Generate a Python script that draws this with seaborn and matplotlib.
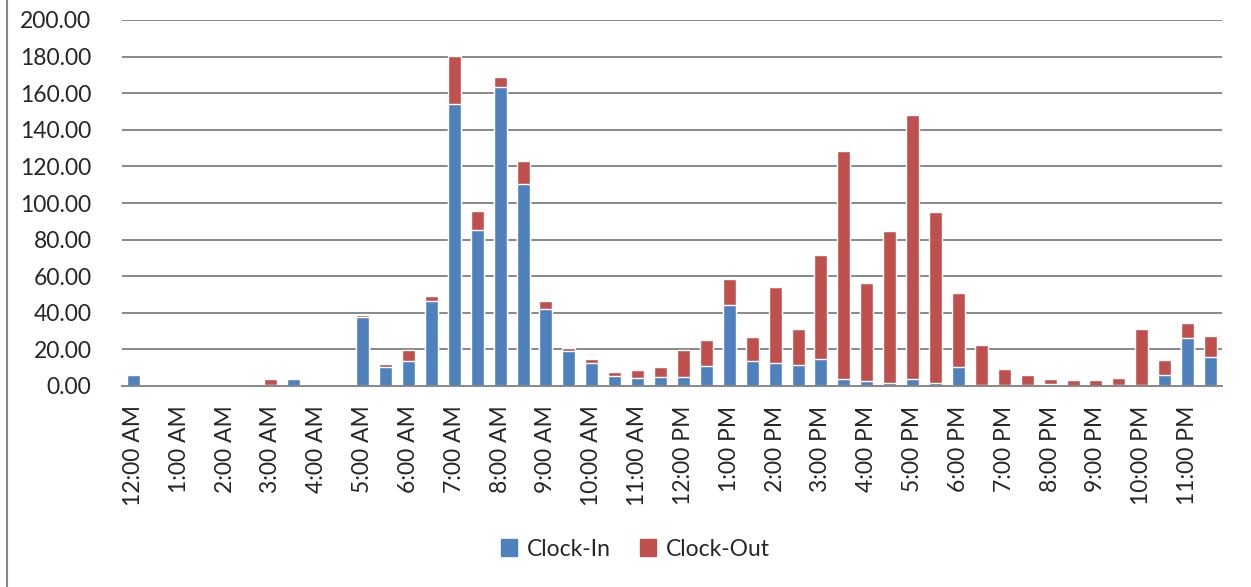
import numpy as np
import pandas as pd
import matplotlib
matplotlib.use("Agg")
import matplotlib.pyplot as plt
from matplotlib.lines import Line2D
from matplotlib.patches import Patch
import seaborn as sns

# hour labels shown on the axis (one bar every half hour)
hour_labels = ["12:00 AM", "1:00 AM", "2:00 AM", "3:00 AM", "4:00 AM", "5:00 AM",
               "6:00 AM", "7:00 AM", "8:00 AM", "9:00 AM", "10:00 AM", "11:00 AM",
               "12:00 PM", "1:00 PM", "2:00 PM", "3:00 PM", "4:00 PM", "5:00 PM",
               "6:00 PM", "7:00 PM", "8:00 PM", "9:00 PM", "10:00 PM", "11:00 PM"]

clock_in = [6.0, 0.5, 0.3, 0.3, 0.3, 0.3, 0.3, 3.8, 0.0, 0.0,
            37.8, 10.5, 13.5, 46.5, 154.0, 85.0, 163.5, 110.5, 42.0, 19.0,
            12.4, 5.6, 4.2, 4.7, 4.7, 10.7, 44.0, 13.5, 12.6, 11.3,
            15.0, 3.6, 2.9, 1.8, 3.6, 1.8, 10.4, 0.5, 0.5, 0.5,
            1.0, 0.0, 0.0, 0.3, 0.3, 6.2, 26.0, 16.0]

clock_out = [0.0, 0.0, 0.3, 0.3, 0.3, 0.3, 3.5, 0.3, 0.0, 0.0,
             1.0, 1.4, 6.0, 2.6, 26.5, 10.5, 5.5, 12.5, 4.3, 1.9,
             2.4, 2.1, 4.4, 5.5, 15.2, 14.4, 14.5, 13.1, 41.5, 20.0,
             56.7, 124.6, 53.6, 82.7, 144.3, 93.1, 40.2, 21.7, 9.0, 5.5,
             2.8, 3.1, 3.3, 4.3, 30.8, 7.8, 8.2, 11.2]

BLUE = "#4F81BD"
RED = "#C0504D"
GRID = "#888888"

slots = []
for h in hour_labels:
    slots.append(h)
    slots.append(h.replace(":00", ":30"))

df = pd.DataFrame({"slot": slots, "in": clock_in, "out": clock_out})
df["total"] = df["in"] + df["out"]

sns.set_style("white")
plt.rcParams["font.family"] = ["Lato", "DejaVu Sans"]

fig = plt.figure(figsize=(12.51, 5.87), dpi=100)
ax = fig.add_axes([122 / 1251, 1 - 386 / 587, 1100 / 1251, 366 / 587])

# stacked bars: draw totals first, clock-in on top of the lower part
sns.barplot(data=df, x="slot", y="total", color=RED, saturation=1, width=0.57, ax=ax)
sns.barplot(data=df, x="slot", y="in", color=BLUE, saturation=1, width=0.57, ax=ax)

ax.set_ylim(0, 200)
ax.set_xlim(-0.5, len(slots) - 0.5)
ax.set_yticks(np.arange(0, 201, 20))
ax.set_yticklabels([f"{v:.2f}" for v in np.arange(0, 201, 20)], fontsize=16.5)
ax.yaxis.grid(True, color=GRID, linewidth=1.4)
ax.set_axisbelow(True)
ax.set_xticks(range(0, len(slots), 2))
ax.set_xticklabels(hour_labels, rotation=90, fontsize=16.5)
ax.tick_params(axis="both", length=0)
ax.tick_params(axis="x", pad=14)
ax.tick_params(axis="y", pad=22)
ax.set_xlabel("")
ax.set_ylabel("")
for side in ["top", "right", "left"]:
    ax.spines[side].set_visible(False)
ax.spines["bottom"].set_color(GRID)
ax.spines["bottom"].set_linewidth(1.4)

handles = [Patch(color=BLUE, label="Clock-In"), Patch(color=RED, label="Clock-Out")]
fig.legend(handles=handles, loc="center", bbox_to_anchor=(0.508, 1 - 549 / 587),
           ncol=2, frameon=False, fontsize=16.5, handlelength=0.7, handleheight=0.7,
           handletextpad=0.4, columnspacing=1.3)

# chart border on the left edge
fig.add_artist(Line2D([7 / 1251, 7 / 1251], [0, 1], transform=fig.transFigure,
                      color=GRID, linewidth=1.5))

fig.savefig("out.png", dpi=100)
